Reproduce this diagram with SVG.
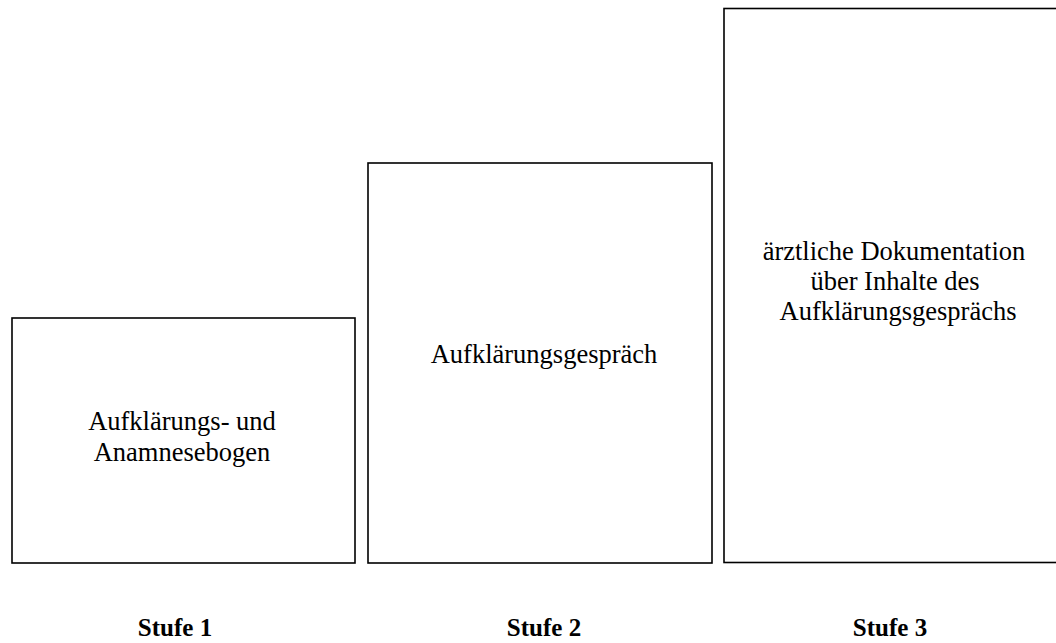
<svg xmlns="http://www.w3.org/2000/svg" width="1056" height="643" viewBox="0 0 1056 643">
<style>
.box{fill:#fff;stroke:#000;stroke-width:1.6}
.t{font-family:"Liberation Serif","Times New Roman",serif;font-size:26.5px;fill:#000;text-anchor:middle}
.s{font-family:"Liberation Serif","Times New Roman",serif;font-size:25px;font-weight:bold;fill:#000;text-anchor:middle}
</style>
<rect width="1056" height="643" fill="#fff"/>
<g id="connectors"></g>
<g id="stufe1">
<rect class="box" x="12" y="318" width="343" height="245"/>
<text class="t" x="182" y="430">Aufklärungs- und</text>
<text class="t" x="182" y="461">Anamnesebogen</text>
</g>
<g id="stufe2">
<rect class="box" x="368" y="163" width="344" height="400"/>
<text class="t" x="544" y="363">Aufklärungsgespräch</text>
</g>
<g id="stufe3">
<rect class="box" x="724" y="8.5" width="340" height="554"/>
<text class="t" x="894" y="260">ärztliche Dokumentation</text>
<text class="t" x="895" y="290">über Inhalte des</text>
<text class="t" x="898" y="320">Aufklärungsgesprächs</text>
</g>
<g id="labels">
<text class="s" x="175" y="636">Stufe 1</text>
<text class="s" x="544" y="636">Stufe 2</text>
<text class="s" x="890" y="636">Stufe 3</text>
</g>
</svg>
